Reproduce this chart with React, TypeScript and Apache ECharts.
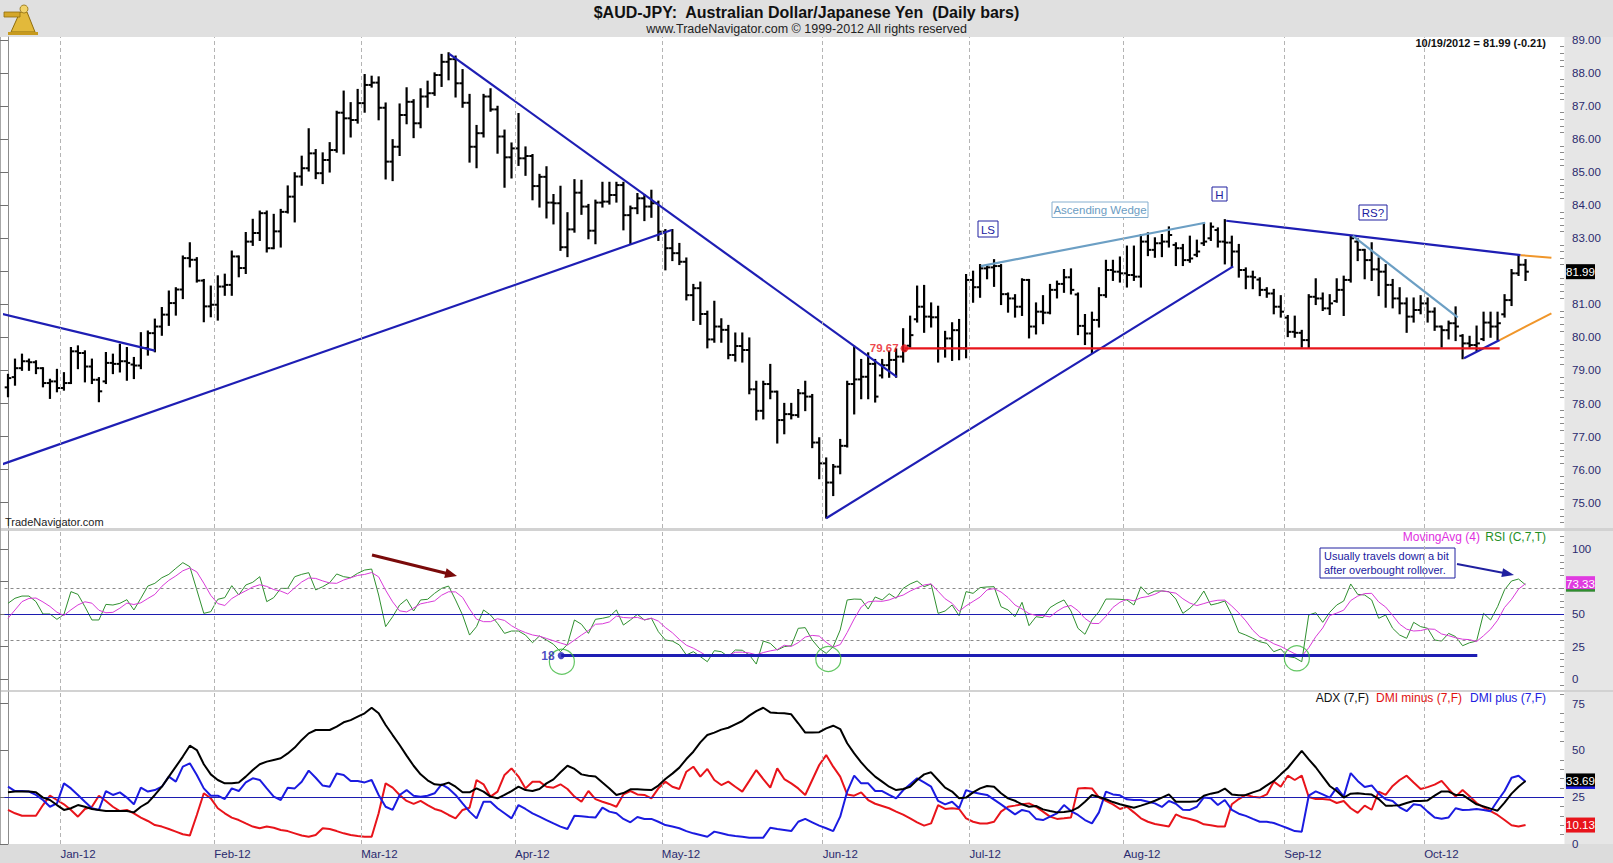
import React, { useEffect, useRef } from "react";
import * as echarts from "echarts";

// ---------------- DATA ----------------
const lastDate = "10/19/2012";
const monthLabels = ["Jan-12", "Feb-12", "Mar-12", "Apr-12", "May-12", "Jun-12", "Jul-12", "Aug-12", "Sep-12", "Oct-12"];
const monthStarts = [8, 30, 51, 73, 94, 117, 138, 160, 183, 203];
const priceTicks = [75, 76, 77, 78, 79, 80, 81, 82, 83, 84, 85, 86, 87, 88, 89];
const rsiTicks = [0, 25, 50, 75, 100];
const adxTicks = [0, 25, 50, 75];

// daily bars: [open, high, low, close]
const ohlc: number[][] = [
[78.49,78.87,78.22,78.77],[78.80,79.33,78.57,79.07],[79.07,79.48,79.02,79.28],[79.28,79.33,79.02,79.25],
[79.25,79.28,78.92,79.07],[79.07,79.07,78.52,78.62],[78.62,78.72,78.17,78.67],[78.67,79.02,78.37,78.47],
[78.47,78.92,78.42,78.62],[78.62,79.68,78.62,79.58],[79.58,79.73,79.07,79.53],[79.53,79.58,78.67,79.12],
[79.12,79.33,78.62,78.72],[78.72,78.77,78.07,78.37],[78.67,79.53,78.62,79.23],[79.23,79.48,78.92,79.20],
[79.20,79.78,78.97,79.28],[79.28,79.68,78.72,79.23],[79.18,79.38,78.77,79.15],[79.15,80.13,79.07,79.68],
[79.68,80.18,79.48,80.13],[80.13,80.54,79.58,80.33],[80.33,80.89,80.08,80.69],[80.69,81.39,80.38,81.04],
[81.04,81.49,80.69,81.45],[81.45,82.45,81.19,82.40],[82.40,82.85,82.15,82.35],[82.35,82.40,81.69,81.72],
[81.72,81.74,80.49,80.94],[80.94,81.54,80.64,80.99],[80.99,81.85,80.54,81.54],[81.54,81.90,81.29,81.59],
[81.59,82.60,81.29,82.45],[82.45,82.45,81.85,82.10],[82.10,83.16,81.95,82.90],[82.90,83.56,82.80,83.16],
[83.16,83.81,82.95,83.76],[83.76,83.81,82.60,82.70],[82.70,83.71,82.70,83.21],[83.21,83.86,82.75,83.80],
[83.80,84.57,83.78,84.26],[84.26,84.97,83.51,84.87],[84.87,85.47,84.62,85.12],[85.12,86.30,85.05,85.57],
[85.57,85.67,84.82,84.97],[84.97,85.57,84.67,85.37],[85.37,85.88,85.02,85.67],[85.67,86.83,85.62,86.80],
[86.80,87.44,85.57,86.63],[86.63,87.09,86.08,86.58],[86.58,87.49,86.50,87.09],[87.09,87.94,86.83,87.64],
[87.64,87.89,87.59,87.71],[87.71,87.87,86.60,86.95],[86.95,87.08,84.81,85.32],[85.32,85.97,84.76,85.77],
[85.77,87.05,85.52,86.73],[86.73,87.54,86.48,87.13],[87.13,87.18,86.06,86.48],[86.48,87.51,86.36,87.29],
[87.29,87.74,86.98,87.39],[87.39,87.99,87.34,87.94],[87.94,88.55,87.61,88.34],[88.34,88.60,87.81,88.42],
[88.42,88.50,87.29,87.69],[87.69,88.09,86.98,87.10],[87.10,87.34,85.32,85.77],[85.77,86.40,85.15,86.18],
[86.18,87.34,86.08,87.29],[87.29,87.51,86.86,86.90],[86.90,86.98,85.59,86.08],[86.08,86.26,84.56,85.45],
[85.45,85.87,84.84,85.72],[85.72,86.76,85.22,85.42],[85.42,85.75,84.92,85.49],[85.49,85.52,84.18,84.58],
[84.58,84.92,83.96,84.86],[84.86,85.15,83.63,84.08],[84.08,84.31,83.45,84.06],[84.06,84.56,82.65,82.73],
[82.73,83.76,82.46,83.27],[83.27,84.76,83.20,84.38],[84.38,84.74,83.74,83.96],[83.96,84.01,83.00,83.23],
[83.23,84.14,82.85,84.08],[84.08,84.68,83.96,84.11],[84.11,84.68,84.05,84.31],[84.31,84.68,84.11,84.61],
[84.61,84.68,83.27,83.70],[83.70,83.96,82.83,83.91],[83.91,84.34,83.76,84.21],[84.21,84.31,83.55,83.96],
[83.96,84.44,83.65,84.06],[84.06,84.11,82.95,83.20],[83.20,83.25,82.06,82.70],[82.70,83.25,82.34,82.55],
[82.55,82.83,82.22,82.29],[82.29,82.39,81.15,81.28],[81.28,81.59,80.53,81.49],[81.49,81.66,80.41,80.71],
[80.71,80.78,79.70,79.94],[79.94,81.08,79.87,80.33],[80.33,80.55,79.87,80.23],[80.23,80.35,79.37,79.47],
[79.47,80.12,79.30,79.74],[79.74,80.12,79.27,79.62],[79.62,79.97,78.31,78.43],[78.43,78.66,77.52,77.78],
[77.78,78.66,77.55,78.59],[78.59,79.17,78.16,78.36],[78.36,78.36,76.82,77.50],[77.50,77.99,77.10,77.68],
[77.68,77.99,77.55,77.65],[77.65,78.41,77.60,78.31],[78.31,78.66,77.80,78.21],[78.21,78.26,76.68,76.82],
[76.82,76.95,75.74,76.19],[76.19,76.34,74.55,75.61],[75.61,76.14,75.23,76.09],[76.09,76.90,75.89,76.72],
[76.72,78.66,76.70,78.59],[78.59,79.72,77.70,78.73],[78.73,79.32,78.16,78.81],[78.81,79.52,78.16,79.20],
[79.20,79.32,78.06,78.21],[78.85,79.32,78.79,79.16],[79.16,79.57,78.81,79.32],[79.32,79.64,78.81,79.42],
[79.42,80.25,79.27,79.60],[79.75,80.63,79.72,80.07],[80.55,81.54,80.48,80.93],[80.93,81.56,80.17,80.63],
[80.63,81.03,80.33,80.61],[80.61,80.93,79.27,79.67],[79.67,80.17,79.42,79.97],[79.97,80.43,79.32,80.22],
[80.22,80.53,79.34,79.67],[79.67,81.89,79.40,81.74],[81.74,81.99,81.08,81.52],[81.52,82.19,81.23,82.09],
[82.09,82.19,81.79,82.12],[82.12,82.34,81.56,82.16],[82.16,82.19,81.01,81.31],[81.31,81.33,80.78,81.18],
[81.18,81.28,80.63,80.93],[80.93,81.76,80.68,81.74],[81.74,81.74,80.00,80.33],[80.33,81.03,80.12,80.78],
[80.78,81.25,80.43,80.75],[80.75,81.59,80.73,81.44],[81.44,81.69,81.21,81.62],[81.62,82.04,81.38,81.82],
[81.82,82.06,81.33,81.44],[81.30,81.33,80.10,80.35],[80.35,80.68,79.80,80.12],[80.12,80.75,79.54,80.53],
[80.53,81.49,80.33,81.28],[81.28,82.32,81.23,82.04],[82.04,82.32,81.74,81.99],[81.99,82.42,81.69,81.94],
[81.94,82.75,81.54,81.89],[81.89,82.75,81.74,81.84],[81.84,83.10,81.54,82.90],[82.90,83.15,82.49,82.65],
[82.65,83.00,82.44,82.85],[82.85,83.10,82.46,82.90],[82.90,83.33,82.75,83.10],[82.80,82.85,82.19,82.70],
[82.70,82.80,82.19,82.34],[82.34,83.05,82.29,82.39],[82.50,82.93,82.46,82.60],[82.85,83.45,82.80,82.90],
[83.00,83.45,82.95,83.35],[83.25,83.30,82.75,82.90],[82.90,83.55,82.24,82.87],[82.87,83.05,82.16,82.60],
[82.60,82.80,81.84,82.04],[82.04,82.09,81.49,81.84],[81.84,81.99,81.49,81.82],[81.75,81.79,81.28,81.44],
[81.44,81.49,81.23,81.33],[81.33,81.44,80.73,80.93],[80.93,81.25,80.63,80.78],[80.60,80.65,80.04,80.17],
[80.17,80.63,80.02,80.14],[80.14,80.20,79.72,79.92],[79.92,81.28,79.70,81.23],[81.23,81.76,81.01,81.18],
[81.18,81.33,80.83,80.88],[80.88,81.28,80.71,81.03],[81.10,81.76,81.08,81.44],[81.44,81.84,80.68,81.74],
[81.74,83.07,81.69,83.00],[82.90,82.97,82.34,82.65],[82.65,82.65,81.79,82.34],[82.34,82.85,81.74,82.06],
[82.06,82.39,81.28,81.99],[81.99,82.19,80.93,81.59],[81.59,81.74,80.91,81.18],[81.18,81.49,80.73,81.03],
[81.03,81.18,80.17,80.63],[80.63,81.18,80.48,80.83],[80.83,81.25,80.73,81.03],[81.03,81.18,80.48,80.78],
[80.78,80.88,80.23,80.33],[80.33,80.33,79.72,80.22],[80.22,80.48,79.97,80.43],[80.43,80.91,79.92,80.33],
[80.05,80.07,79.37,79.82],[79.82,80.02,79.72,79.77],[79.77,80.33,79.62,79.82],[79.95,80.75,79.92,80.45],
[80.45,80.75,80.02,80.33],[80.33,80.75,79.94,80.43],[80.70,81.28,80.63,81.13],[81.13,82.04,80.98,81.94],
[81.94,82.49,81.89,82.20],[82.20,82.34,81.74,81.99],
];

// RSI (C,7,T)
const rsi = [
58.2,62.1,63.8,63.8,59.5,50.0,50.0,45.9,49.7,67.2,65.1,55.6,45.4,45.4,57.4,56.9,58.2,61.0,53.1,62.1,
71.5,73.6,77.9,80.5,85.1,89.5,86.4,68.5,50.5,51.8,61.3,62.6,71.8,64.6,72.3,74.4,78.7,59.5,62.6,69.7,
69.7,78.7,80.5,81.8,68.5,71.0,74.1,80.8,78.7,77.9,81.3,83.8,84.6,64.6,40.3,47.9,56.9,61.3,52.3,60.8,
61.3,65.9,69.7,71.5,60.8,49.2,33.8,40.3,53.1,49.2,42.8,35.1,36.9,36.9,33.8,27.9,33.1,
30.0,26.7,21.0,26.7,45.4,42.1,35.1,45.9,46.7,47.9,53.1,41.5,45.4,49.7,45.4,46.7,36.4,30.0,29.2,26.2,
18.5,21.0,17.2,13.3,21.8,21.0,17.2,22.3,22.1,18.5,11.5,29.2,27.4,22.3,24.9,25.6,39.0,39.5,30.0,23.6,
19.7,24.9,37.7,60.8,61.5,61.3,53.8,63.1,60.8,65.6,62.1,69.7,73.1,75.4,71.0,73.1,50.5,52.3,56.9,48.7,
67.2,65.9,70.3,70.8,71.0,55.6,53.1,47.9,59.0,41.0,47.9,47.2,54.9,58.2,
60.8,52.3,39.0,34.4,45.4,51.8,61.5,61.5,61.3,60.8,56.9,71.0,65.1,67.7,67.7,67.2,61.5,50.5,54.4,59.5,
67.7,56.9,58.2,60.0,49.2,35.9,33.8,31.3,28.7,27.4,21.0,23.1,17.2,16.4,13.3,49.2,51.0,43.6,51.3,56.9,
60.0,73.1,65.1,64.6,60.8,46.7,49.2,39.0,33.8,31.3,43.6,40.3,39.0,30.0,29.2,35.1,32.6,25.6,27.9,29.2,
50.5,45.4,55.6,68.6,75.4,76.9,72.42,
];
// MovingAvg(4) values before the RSI window is filled
const maHead = [46.7, 53.1, 59.5];

// ADX (7,F)
const adx = [
27.6,28.0,28.0,28.0,27.6,24.8,23.5,20.8,18.2,19.1,20.8,19.9,18.7,18.2,17.6,17.6,17.6,17.6,16.9,19.9,
22.1,26.2,30.6,36.0,41.3,46.7,52.5,50.2,42.6,37.2,34.2,32.4,32.4,32.9,36.0,39.5,42.6,44.0,44.9,45.8,
48.4,51.5,55.6,59.1,60.9,60.9,60.9,62.7,65.0,66.2,68.0,69.8,72.8,69.8,63.6,58.2,52.9,47.2,41.8,37.2,
34.0,31.9,31.5,32.8,30.6,27.6,27.6,29.7,28.0,25.3,24.4,26.2,28.3,30.6,28.8,28.3,29.4,
32.4,34.5,38.3,41.8,40.1,37.2,36.5,36.0,32.8,29.7,26.2,27.2,29.2,29.2,29.0,28.8,31.2,34.7,37.6,40.8,
45.4,49.3,54.3,58.2,59.5,61.1,62.1,63.9,65.7,68.6,71.0,72.8,70.3,70.0,69.8,69.3,64.5,59.5,59.5,59.7,
61.8,63.2,61.4,53.8,48.4,43.6,39.5,36.0,33.3,30.6,28.8,29.4,30.6,34.2,37.2,38.3,34.2,30.1,28.0,24.4,
24.8,27.6,29.7,31.0,30.6,27.1,24.4,23.1,21.2,19.9,20.3,18.5,17.6,16.9,
17.1,17.6,19.4,22.6,26.2,25.1,23.9,22.4,21.2,20.3,19.4,20.5,21.7,23.1,24.8,26.5,22.6,22.6,22.6,22.8,
25.8,26.9,27.6,29.6,26.5,26.0,26.2,27.6,28.8,31.3,33.7,37.2,40.6,45.2,49.7,45.2,41.0,36.0,31.0,28.3,
24.8,26.9,27.1,26.7,26.4,24.0,20.5,20.5,20.7,21.9,23.0,23.0,23.3,25.8,28.1,28.0,26.2,26.2,23.7,21.2,
20.1,18.9,17.8,22.1,26.9,30.6,33.69,
];

// DMI minus (7,F)
const dmiMinus = [
18.2,16.4,15.1,15.1,15.1,20.8,25.8,23.5,21.2,18.2,14.6,18.7,19.9,25.8,23.0,19.9,17.6,18.2,16.4,14.1,
12.3,10.1,9.3,8.0,6.6,5.2,4.5,15.5,27.1,24.4,19.1,16.4,14.1,12.8,11.0,9.3,8.4,9.3,8.7,7.5,
6.9,5.7,4.5,3.9,4.8,8.4,8.0,6.9,5.7,4.8,4.3,3.9,3.9,16.4,32.4,30.1,26.2,23.0,21.4,23.0,
20.8,18.7,17.6,15.5,13.7,18.2,19.4,34.2,31.9,25.3,28.0,36.9,40.4,36.0,29.7,33.3,33.3,
30.6,30.1,31.9,29.4,25.3,22.6,28.3,24.0,22.6,21.4,19.9,26.5,28.3,26.5,26.2,24.4,29.7,33.3,30.6,29.4,
38.6,41.3,36.0,40.1,34.2,31.5,33.3,30.6,28.0,33.7,39.5,34.7,30.1,40.4,34.7,32.4,29.7,26.2,34.2,42.2,
47.5,41.3,36.0,26.5,25.8,27.6,23.5,21.5,20.3,19.1,17.3,15.7,13.7,11.6,9.8,11.0,20.8,18.7,19.1,18.7,
13.7,11.9,11.0,11.0,11.9,17.3,19.9,20.5,21.2,21.7,19.9,17.3,14.6,13.4,
13.7,14.1,29.7,29.9,29.7,24.9,23.0,21.2,18.7,19.9,16.9,13.7,11.9,10.7,10.0,9.3,15.8,14.1,13.4,12.3,
10.5,10.0,9.4,9.3,21.2,24.0,26.2,25.3,24.8,26.5,33.3,30.6,36.5,34.2,36.5,25.1,24.0,24.0,23.7,21.9,
23.0,19.1,16.6,20.5,18.3,28.0,26.2,31.0,34.2,36.5,32.9,29.4,30.4,31.7,33.7,29.4,25.3,28.8,25.5,21.9,
19.6,17.6,15.5,12.8,10.0,9.3,10.13,
];

// DMI plus (7,F)
const dmiPlus = [
30.6,28.3,28.3,28.0,26.2,23.5,19.9,21.7,32.4,29.7,26.2,22.6,19.1,18.2,28.3,26.2,27.6,24.8,21.2,30.1,
28.0,28.8,30.6,36.0,33.3,41.3,43.1,36.9,29.7,25.8,25.8,24.0,29.7,28.3,32.9,35.1,34.2,29.7,25.3,23.5,
30.1,29.7,33.3,39.2,35.4,31.2,30.6,37.7,36.9,33.7,33.7,32.9,34.2,26.2,19.9,18.2,26.2,28.8,25.8,25.3,
25.8,27.1,31.9,29.7,26.2,21.7,17.3,13.7,22.6,22.6,19.1,16.4,13.7,20.8,18.7,16.4,14.6,
12.8,11.0,9.3,8.0,15.1,14.8,14.4,14.1,19.4,17.3,16.4,13.4,11.6,14.4,13.4,13.4,11.9,10.1,9.3,8.4,
6.9,5.7,4.8,3.9,6.6,5.7,4.8,4.3,3.9,3.4,3.4,3.4,8.7,8.0,7.5,6.9,11.9,13.4,11.6,9.8,
8.4,6.9,14.6,28.0,36.5,32.4,32.4,28.3,28.3,26.2,24.4,28.7,31.9,35.1,32.9,30.6,23.0,21.2,22.6,19.1,
28.8,27.6,26.9,26.2,23.7,21.2,18.5,15.8,18.2,17.3,13.4,12.8,14.6,16.4,
20.8,17.6,15.5,12.8,11.0,16.9,28.0,26.5,26.0,23.9,23.5,23.5,22.6,21.7,19.8,23.0,21.5,18.3,18.2,19.9,
24.9,24.4,20.8,23.5,18.2,16.2,15.0,13.4,11.9,11.9,11.2,9.8,8.4,6.9,6.6,25.8,28.1,26.5,24.8,30.1,
25.3,37.9,33.7,30.4,31.3,26.9,23.9,23.0,19.6,17.5,21.2,20.7,17.3,14.1,13.5,14.2,19.1,18.2,18.3,18.7,
18.2,17.5,23.1,28.3,35.4,36.5,33.3,
];

// hand-drawn trend lines: [barIndex, price] pairs
const blueTrendLines = [
  [[-1.14, 80.73], [21.0, 79.6]],
  [[-1.14, 76.14], [94.9, 83.25]],
  [[63.1, 88.58], [127.1, 78.81]],
  [[117.0, 74.53], [175.2, 82.15]],
  [[174.2, 83.53], [216.3, 82.49]],
  [[208.2, 79.37], [213.3, 79.92]],
];
const wedgeLines = [
  [[139.1, 82.16], [171.2, 83.47]],
  [[192.3, 83.07], [207.3, 80.61]],
];
const projectionLines = [
  [[216.3, 82.49], [220.7, 82.41]],
  [[213.3, 79.92], [220.7, 80.73]],
];
const supportLevel = 79.67;
const supportRange = [128.2, 213.3];
const rsiFloor = 18;
const rsiFloorRange = [79.1, 210.1];
const rsiCircles = [[79.2, 13.3], [117.3, 15.4], [184.3, 15.9]];

// ---------------- CHART ----------------
const FONT = '"Liberation Sans", Arial, Helvetica, sans-serif';
const NAVY = "#1e1eb4";
const AXIS_TXT = "#2a2a6e";
const RED = "#e8141b";
const GREEN = "#2f8f2f";
const MAGENTA = "#d83ad8";
const DMI_BLUE = "#1b1be0";

const fmtMonth = (v: number) => {
  const k = monthStarts.findIndex((s) => Math.abs(s - 0.5 - v) < 0.01);
  return k >= 0 ? monthLabels[k] : "";
};

export default function App() {
  const ref = useRef<HTMLDivElement | null>(null);

  useEffect(() => {
    const prevMargin = document.body.style.margin;
    document.body.style.margin = "0";
    const el = ref.current!;
    const chart = echarts.init(el, null, { renderer: "svg" });

    const left = 4.5;
    const plotW = 1559.5;
    const grids = [
      { left, width: plotW, top: 37, height: 491 },
      { left, width: plotW, top: 531, height: 159 },
      { left, width: plotW, top: 692, height: 152 },
    ];
    const yRanges = [
      [74.2342, 89.0908],
      [-8.4615, 113.8462],
      [0, 81.2],
    ];
    const monthBounds = monthStarts.map((s) => s - 0.5);

    const ma4 = rsi.map((_, i) =>
      i < 3 ? maHead[i] : (rsi[i] + rsi[i - 1] + rsi[i - 2] + rsi[i - 3]) / 4
    );
    const lastClose = ohlc[ohlc.length - 1][3];
    const prevClose = ohlc[ohlc.length - 2][3];
    const lastMa = ma4[ma4.length - 1];
    const lastAdx = adx[adx.length - 1];
    const lastDmiMinus = dmiMinus[dmiMinus.length - 1];

    // tick labels hidden behind the last-value boxes (as in the reference)
    const priceLabels = priceTicks.filter((v) => Math.abs(v - lastClose) > 0.3);
    const rsiLabels = rsiTicks.filter((v) => Math.abs(v - lastMa) > 8);

    const priceMinor: number[] = [];
    for (let k = 372; k <= 445; k++) if (k % 5 !== 0) priceMinor.push(k / 5);
    const rsiMinor: number[] = [];
    for (let v = -5; v <= 110; v += 5) if (v % 25 !== 0) rsiMinor.push(v);
    const adxMinor: number[] = [];
    for (let v = 5; v <= 80; v += 5) if (v % 25 !== 0) adxMinor.push(v);

    const xAxes = grids.map((_, g) => ({
      type: "value",
      gridIndex: g,
      min: -0.5,
      max: 222.5,
      show: g === 2,
      axisLine: { show: false },
      axisTick: { show: false },
      splitLine: { show: false },
      axisLabel:
        g === 2
          ? {
              show: true,
              customValues: monthBounds,
              formatter: fmtMonth,
              align: "left",
              color: AXIS_TXT,
              fontSize: 11.5,
              fontFamily: FONT,
              margin: 4,
            }
          : { show: false },
    }));

    const mainY = (g: number, ticks: number[], labels: number[], fmt: (v: number) => string) => ({
      type: "value",
      gridIndex: g,
      position: "right",
      min: yRanges[g][0],
      max: yRanges[g][1],
      axisLine: { show: true, lineStyle: { color: "#8c8c8c", width: 1 } },
      axisTick: { show: true, inside: true, length: 9, customValues: ticks, lineStyle: { color: "#707070" } },
      axisLabel: { show: true, customValues: labels, formatter: fmt, color: AXIS_TXT, fontSize: 11.5, fontFamily: FONT, margin: 8 },
      splitLine: { show: false },
    });
    const minorY = (g: number, ticks: number[]) => ({
      type: "value",
      gridIndex: g,
      position: "right",
      min: yRanges[g][0],
      max: yRanges[g][1],
      axisLine: { show: false },
      axisTick: { show: true, inside: true, length: 4, customValues: ticks, lineStyle: { color: "#8a8a8a" } },
      axisLabel: { show: false },
      splitLine: { show: false },
    });
    const yAxes = [
      mainY(0, priceTicks, priceLabels, (v) => v.toFixed(2)),
      mainY(1, rsiTicks, rsiLabels, (v) => String(v)),
      mainY(2, adxTicks, adxTicks, (v) => String(v)),
      minorY(0, priceMinor),
      minorY(1, rsiMinor),
      minorY(2, adxMinor),
    ];

    const monthLineData = monthBounds.map((v) => ({
      xAxis: v,
      lineStyle: { color: "#b4b4b4", type: [4, 3], width: 1 },
    }));

    const frameSeries = (g: number, extra: any[]) => ({
      type: "line",
      xAxisIndex: g,
      yAxisIndex: g,
      data: [[0, yRanges[g][0] + 1]],
      symbol: "none",
      lineStyle: { opacity: 0 },
      silent: true,
      z: 1,
      markLine: {
        silent: true,
        symbol: ["none", "none"],
        label: { show: false },
        emphasis: { disabled: true },
        data: [...monthLineData, ...extra],
      },
    });

    const seg = (pts: number[][], color: string, width: number, g = 0, z = 4) => ({
      type: "line",
      xAxisIndex: g,
      yAxisIndex: g,
      data: pts,
      symbol: "none",
      silent: true,
      clip: true,
      z,
      lineStyle: { color, width },
    });

    const series: any[] = [
      frameSeries(0, []),
      frameSeries(1, [
        { yAxis: 70, lineStyle: { color: "#8a8a8a", type: [3, 3], width: 1 } },
        { yAxis: 30, lineStyle: { color: "#8a8a8a", type: [3, 3], width: 1 } },
        { yAxis: 50, lineStyle: { color: "#1c1cb0", type: "solid", width: 1 } },
      ]),
      frameSeries(2, [{ yAxis: 25, lineStyle: { color: "#1c1cb0", type: "solid", width: 1 } }]),
      {
        type: "custom",
        name: "AUD-JPY",
        xAxisIndex: 0,
        yAxisIndex: 0,
        dimensions: ["idx", "open", "high", "low", "close"],
        encode: { x: 0, y: [1, 2, 3, 4] },
        data: ohlc.map((d, i) => [i, d[0], d[1], d[2], d[3]]),
        silent: true,
        clip: true,
        z: 3,
        renderItem: (params: any, api: any) => {
          const i = api.value(0);
          const o = api.coord([i, api.value(1)]);
          const h = api.coord([i, api.value(2)]);
          const l = api.coord([i, api.value(3)]);
          const c = api.coord([i, api.value(4)]);
          const x = h[0];
          const st = { stroke: "#000", lineWidth: 2 };
          return {
            type: "group",
            children: [
              { type: "line", shape: { x1: x, y1: h[1] - 1, x2: x, y2: l[1] + 1 }, style: { stroke: "#000", lineWidth: 2.2 } },
              { type: "line", shape: { x1: x - 3.3, y1: o[1], x2: x, y2: o[1] }, style: st },
              { type: "line", shape: { x1: x, y1: c[1], x2: x + 3.3, y2: c[1] }, style: st },
            ],
          };
        },
      },
      ...blueTrendLines.map((p) => seg(p, NAVY, 2.2)),
      ...wedgeLines.map((p) => seg(p, "#6c9fc4", 2.2)),
      ...projectionLines.map((p) => seg(p, "#f0962a", 2)),
      seg([[supportRange[0], supportLevel], [supportRange[1], supportLevel]], RED, 2.4),
      {
        type: "scatter",
        xAxisIndex: 0,
        yAxisIndex: 0,
        data: [[supportRange[0], supportLevel]],
        symbolSize: 8,
        itemStyle: { color: RED },
        silent: true,
        z: 6,
        label: {
          show: true,
          position: "left",
          distance: 2,
          formatter: supportLevel.toFixed(2),
          color: RED,
          fontSize: 11.5,
          fontWeight: "bold",
          fontFamily: FONT,
        },
      },
      // RSI panel
      seg(rsi.map((v, i) => [i, v]), GREEN, 1, 1, 4),
      seg(ma4.map((v, i) => [i, v]), MAGENTA, 1, 1, 5),
      seg([[rsiFloorRange[0], rsiFloor], [rsiFloorRange[1], rsiFloor]], NAVY, 3, 1, 6),
      {
        type: "scatter",
        xAxisIndex: 1,
        yAxisIndex: 1,
        data: [[rsiFloorRange[0], rsiFloor]],
        symbolSize: 7,
        itemStyle: { color: NAVY },
        silent: true,
        z: 7,
        label: {
          show: true,
          position: "left",
          distance: 3,
          formatter: String(rsiFloor),
          color: NAVY,
          fontSize: 12,
          fontWeight: "bold",
          fontFamily: FONT,
        },
      },
      {
        type: "scatter",
        xAxisIndex: 1,
        yAxisIndex: 1,
        data: rsiCircles,
        symbolSize: 25,
        itemStyle: { color: "rgba(0,0,0,0)", borderColor: "#3cb83c", borderWidth: 1.2 },
        silent: true,
        z: 7,
      },
      // ADX panel
      seg(dmiMinus.map((v, i) => [i, v]), RED, 2, 2, 4),
      seg(dmiPlus.map((v, i) => [i, v]), DMI_BLUE, 2, 2, 5),
      seg(adx.map((v, i) => [i, v]), "#000000", 2, 2, 6),
    ];

    const txt = (text: string, x: number, y: number, font: string, fill: string, align = "left", z = 10) => ({
      type: "text",
      x,
      y,
      z,
      silent: true,
      style: { text, font, fill, textAlign: align, textVerticalAlign: "middle" },
    });
    const box = (label: string, x: number, y: number, w: number, h: number, stroke: string, color: string) => ({
      type: "group",
      z: 10,
      silent: true,
      children: [
        { type: "rect", shape: { x, y, width: w, height: h }, style: { fill: "#fff", stroke, lineWidth: 1 }, z: 10 },
        {
          type: "text",
          x: x + w / 2,
          y: y + h / 2 + 0.5,
          z: 11,
          style: { text: label, font: `11.5px ${FONT}`, fill: color, textAlign: "center", textVerticalAlign: "middle" },
        },
      ],
    });

    const change = lastClose - prevClose;
    const headerValue = `${lastDate} = ${lastClose.toFixed(2)} (${change >= 0 ? "+" : ""}${change.toFixed(2)})`;

    const staticGraphics: any[] = [
      { type: "rect", z: -5, silent: true, shape: { x: 0, y: 0, width: 1613, height: 37 }, style: { fill: "#e0e0e0" } },
      { type: "rect", z: -5, silent: true, shape: { x: 1564.5, y: 37, width: 48.5, height: 807 }, style: { fill: "#e6e6e6" } },
      { type: "rect", z: -5, silent: true, shape: { x: 0, y: 528, width: 1613, height: 3 }, style: { fill: "#d2d2d2" } },
      { type: "rect", z: -5, silent: true, shape: { x: 0, y: 690, width: 1613, height: 2 }, style: { fill: "#d2d2d2" } },
      { type: "rect", z: -5, silent: true, shape: { x: 0, y: 844, width: 1613, height: 19 }, style: { fill: "#dcdcdc" } },
      { type: "line", z: -4, silent: true, shape: { x1: 0.5, y1: 37, x2: 0.5, y2: 844 }, style: { stroke: "#a8a8a8", lineWidth: 1 } },
      // logo
      {
        type: "group",
        x: 3,
        y: 2,
        z: 10,
        silent: true,
        children: [
          { type: "polygon", shape: { points: [[8, 30], [32, 30], [24, 10], [17, 10]] }, style: { fill: "#e2b93b", stroke: "#8f6d0c", lineWidth: 1 } },
          { type: "rect", shape: { x: 1, y: 10, width: 16, height: 5 }, style: { fill: "#d4a72a", stroke: "#8f6d0c", lineWidth: 0.8 } },
          { type: "circle", shape: { cx: 21, cy: 7, r: 4 }, style: { fill: "#f1d36a", stroke: "#8f6d0c", lineWidth: 0.8 } },
          { type: "rect", shape: { x: 5, y: 30, width: 30, height: 3 }, style: { fill: "#c79a1e" } },
        ],
      },
      txt("$AUD-JPY:  Australian Dollar/Japanese Yen  (Daily bars)", 806.5, 12, `bold 16px ${FONT}`, "#111", "center"),
      txt("www.TradeNavigator.com \u00A9 1999-2012 All rights reserved", 806.5, 29, `12.5px ${FONT}`, "#222", "center"),
      txt(headerValue, 1546, 43, `bold 11px ${FONT}`, "#111", "right"),
      txt("TradeNavigator.com", 5, 522, `11px ${FONT}`, "#222", "left"),
      txt("RSI (C,7,T)", 1546, 537, `12px ${FONT}`, "#1f8f1f", "right"),
      txt("MovingAvg (4)", 1480, 537, `12px ${FONT}`, "#e030e0", "right"),
      txt("DMI plus (7,F)", 1546, 698, `12px ${FONT}`, "#2020e0", "right"),
      txt("DMI minus (7,F)", 1462, 698, `12px ${FONT}`, "#e01010", "right"),
      txt("ADX (7,F)", 1369, 698, `12px ${FONT}`, "#111", "right"),
      box("LS", 978, 221, 20, 16, "#2020a0", "#2020a0"),
      box("Ascending Wedge", 1052, 202, 96, 15.5, "#86afcf", "#6b9cc2"),
      box("H", 1212, 187, 15, 14, "#2020a0", "#2020a0"),
      box("RS?", 1359, 205, 28, 15, "#2020a0", "#2020a0"),
      {
        type: "group",
        z: 10,
        silent: true,
        children: [
          { type: "rect", shape: { x: 1320, y: 548, width: 135, height: 30 }, style: { fill: "#fff", stroke: "#2020a0", lineWidth: 1 } },
          { type: "text", x: 1324, y: 556, style: { text: "Usually travels down a bit", font: `11px ${FONT}`, fill: "#2020a0", textVerticalAlign: "middle" } },
          { type: "text", x: 1324, y: 570, style: { text: "after overbought rollover.", font: `11px ${FONT}`, fill: "#2020a0", textVerticalAlign: "middle" } },
        ],
      },
      // arrows
      { type: "line", z: 10, silent: true, shape: { x1: 1457, y1: 564, x2: 1504, y2: 573 }, style: { stroke: "#2020a0", lineWidth: 2 } },
      { type: "polygon", z: 10, silent: true, shape: { points: [[1514, 575], [1501.3, 577.1], [1503.1, 568.3]] }, style: { fill: "#2020a0" } },
      { type: "line", z: 10, silent: true, shape: { x1: 372, y1: 555, x2: 447, y2: 573.5 }, style: { stroke: "#7a0a0a", lineWidth: 3 } },
      { type: "polygon", z: 10, silent: true, shape: { points: [[457, 576], [444.2, 578], [446.6, 568.3]] }, style: { fill: "#7a0a0a" } },
    ];

    const option: any = {
      animation: false,
      backgroundColor: "#ffffff",
      grid: grids,
      xAxis: xAxes,
      yAxis: yAxes,
      series,
      graphic: staticGraphics,
    };
    chart.setOption(option);

    const valueBox = (value: number, axis: number, fill: string, strip: string | null, textColor: string) => {
      const y = chart.convertToPixel({ yAxisIndex: axis }, value) as unknown as number;
      const children: any[] = [
        { type: "rect", shape: { x: 1566, y: y - 7.5, width: 29, height: 15 }, style: { fill } },
      ];
      if (strip) children.push({ type: "rect", shape: { x: 1566, y: y + 5.5, width: 29, height: 2.5 }, style: { fill: strip } });
      children.push({
        type: "text",
        x: 1580.5,
        y: y,
        style: { text: value.toFixed(2), font: `11.5px ${FONT}`, fill: textColor, textAlign: "center", textVerticalAlign: "middle" },
      });
      return { type: "group", z: 20, silent: true, children };
    };

    const boxes = [
      valueBox(lastClose, 0, "#000", null, "#fff"),
      valueBox(lastMa, 1, "#e03be0", GREEN, "#fff"),
      valueBox(lastAdx, 2, "#000", DMI_BLUE, "#fff"),
      valueBox(lastDmiMinus, 2, RED, null, "#fff"),
    ];
    chart.setOption({ graphic: [...staticGraphics, ...boxes] }, { replaceMerge: ["graphic"] });

    return () => {
      chart.dispose();
      document.body.style.margin = prevMargin;
    };
  }, []);

  return <div ref={ref} style={{ position: "absolute", left: 0, top: 0, width: 1613, height: 863 }} />;
}
